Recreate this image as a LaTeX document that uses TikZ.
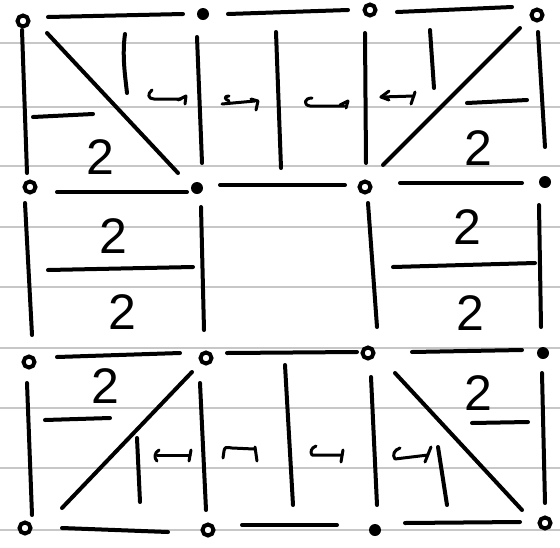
\documentclass[tikz,border=0pt]{standalone}
\usepackage{fontspec}
\newfontfamily\handfont{Liberation Sans}
\begin{document}
\begin{tikzpicture}[x=1pt,y=-1pt,
  paper/.style={draw=black!22, line width=1.3pt},
  edge/.style={line width=4pt, line cap=round, line join=round},
  glyph/.style={line width=3pt, line cap=round, line join=round},
  dotfill/.style={circle, fill=black, inner sep=0pt, minimum size=12pt},
  dotring/.style={circle, draw=black, line width=4pt, fill=white, inner sep=0pt, minimum size=11pt},
  two/.style={font=\handfont\fontsize{50}{50}\selectfont, inner sep=0pt}]
\useasboundingbox (0,0) rectangle (560,547);
\fill[white] (0,0) rectangle (560,547);
% ruled paper
\foreach \yy in {43,107,166,227,287,348,408,468,530}
  \draw[paper] (0,\yy) -- (560,\yy);
% dots
\node[dotring] (d11) at (23,21) {};
\node[dotfill] (d12) at (203,14) {};
\node[dotring] (d13) at (370,10) {};
\node[dotring] (d14) at (537,15) {};
\node[dotring] (d21) at (30,187) {};
\node[dotfill] (d22) at (197,188) {};
\node[dotring] (d23) at (365,187) {};
\node[dotfill] (d24) at (545,182) {};
\node[dotring] (d31) at (29,362) {};
\node[dotring] (d32) at (206,358) {};
\node[dotring] (d33) at (368,353) {};
\node[dotfill] (d34) at (543,353) {};
\node[dotring] (d41) at (25,528) {};
\node[dotring] (d42) at (208,530) {};
\node[dotfill] (d43) at (375,530) {};
\node[dotring] (d44) at (545,523) {};
% horizontal edges
\draw[edge] (48,17) -- (183,14);
\draw[edge] (228,14) -- (348,10);
\draw[edge] (397,12) -- (512,7);
\draw[edge] (57,192) -- (187,192);
\draw[edge] (220,185) -- (345,185);
\draw[edge] (400,183) -- (522,183);
\draw[edge] (57,357) -- (180,353);
\draw[edge] (227,353) -- (357,352);
\draw[edge] (412,352) -- (522,350);
\draw[edge] (62,528) -- (168,532);
\draw[edge] (242,525) -- (337,525);
\draw[edge] (405,523) -- (520,522);
% vertical edges
\draw[edge] (22,30) -- (27,173);
\draw[edge] (197,37) -- (202,163);
\draw[edge] (276,32) -- (281,168);
\draw[edge] (365,33) -- (366,163);
\draw[edge] (538,32) -- (545,147);
\draw[edge] (25,203) -- (32,335);
\draw[edge] (201,207) -- (204,330);
\draw[edge] (368,203) -- (377,327);
\draw[edge] (539,205) -- (541,327);
\draw[edge] (27,383) -- (32,515);
\draw[edge] (200,383) -- (206,510);
\draw[edge] (285,365) -- (293,505);
\draw[edge] (371,377) -- (377,505);
\draw[edge] (542,373) -- (545,503);
% diagonals
\draw[edge] (47,33) -- (178,173);
\draw[edge] (383,165) -- (520,28);
\draw[edge] (62,508) -- (192,372);
\draw[edge] (395,373) -- (522,510);
% short bars
\draw[edge] (125,34) .. controls (122,55) and (125,75) .. (127,93);
\draw[edge] (33,117) -- (93,114);
\draw[edge] (430,30) -- (434,88);
\draw[edge] (467,103) -- (527,100);
\draw[edge] (48,270) -- (193,267);
\draw[edge] (393,267) -- (535,263);
\draw[edge] (45,420) -- (110,418);
\draw[edge] (137,438) -- (140,502);
\draw[edge] (438,447) -- (447,505);
\draw[edge] (472,423) -- (528,422);
% labels
\node[two] (t1) at (100,157) {2};
\node[two] (t2) at (478,148) {2};
\node[two] (t3) at (113,236) {2};
\node[two] (t4) at (122,312) {2};
\node[two] (t5) at (467,227) {2};
\node[two] (t6) at (470,313) {2};
\node[two] (t7) at (105,386) {2};
\node[two] (t8) at (478,393) {2};
% hook-arrow glyphs, top row
\draw[glyph] (152,90) .. controls (147,94) and (148,99) .. (154,99) -- (181,99);
\draw[glyph] (178,100) -- (186,96) -- (185,104);
\draw[glyph] (229,96) .. controls (224,96) and (224,99) .. (229,101);
\draw[glyph] (222,104) -- (255,101);
\draw[glyph] (251,99) -- (258,101) -- (256,110);
\draw[glyph] (312,98) .. controls (304,98) and (303,105) .. (310,106) -- (344,106);
\draw[glyph] (340,105) -- (348,101) -- (346,108);
\draw[glyph] (389,91) -- (381,97) -- (389,100);
\draw[glyph] (381,97) -- (414,96);
\draw[glyph] (415,92) -- (411,104);
% hook-arrow glyphs, bottom row
\draw[glyph] (159,450) .. controls (154,453) and (154,458) .. (157,461);
\draw[glyph] (157,455) -- (190,455);
\draw[glyph] (191,450) -- (189,461);
\draw[glyph] (223,458) -- (224,451) .. controls (225,447) .. (232,448) -- (254,449);
\draw[glyph] (255,447) -- (257,461);
\draw[glyph] (316,446) .. controls (311,448) and (310,452) .. (312,455) -- (342,455);
\draw[glyph] (343,450) -- (341,462);
\draw[glyph] (400,448) .. controls (394,450) and (392,455) .. (395,459) -- (428,455);
\draw[glyph] (431,447) -- (425,462);
\end{tikzpicture}
\end{document}
